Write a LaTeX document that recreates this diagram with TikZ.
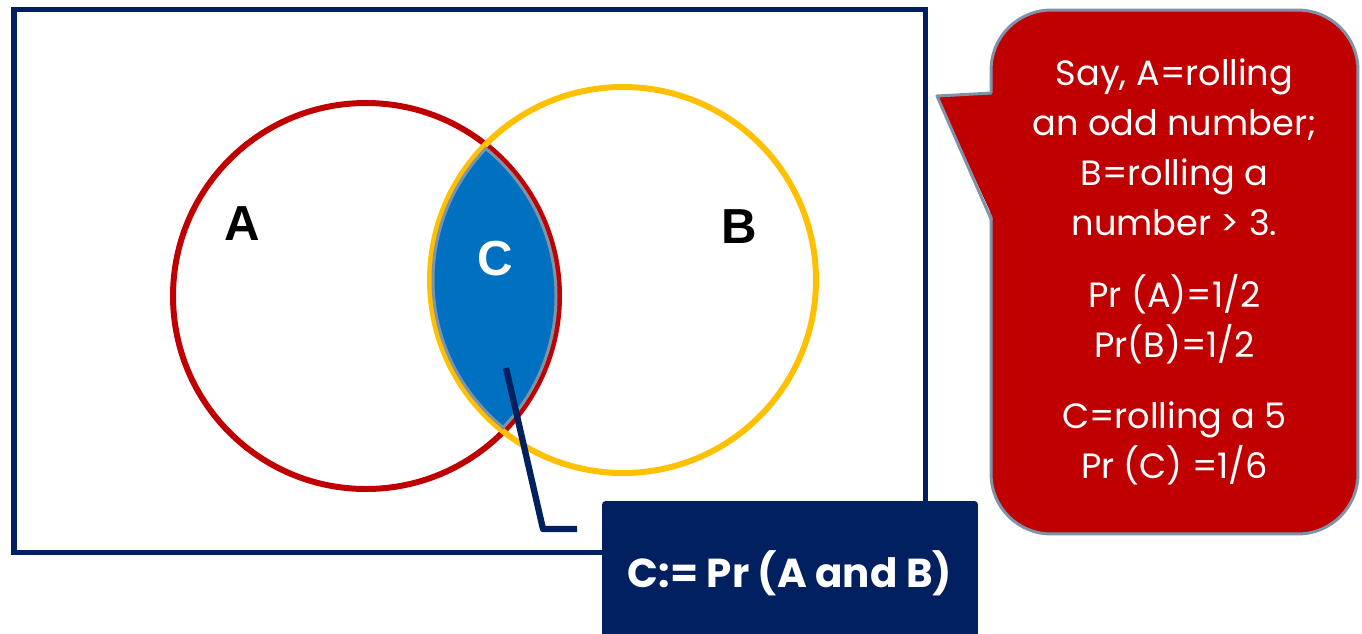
\documentclass[tikz,border=0pt]{standalone}
\usepackage{fontspec}
\setmainfont{Poppins}
\newfontfamily\arialbf{Liberation Sans}[Scale=1.0]
\usepackage{tikz}
\usetikzlibrary{positioning,calc}

\definecolor{navy}{HTML}{002060}
\definecolor{setred}{HTML}{C00000}
\definecolor{setgold}{HTML}{FFC000}
\definecolor{lensblue}{HTML}{0070C0}
\definecolor{slate}{HTML}{7F93A8}

\begin{document}
\begin{tikzpicture}[
  x=0.02cm, y=-0.02cm,
  frame/.style={draw=navy, line width=2.85pt},
  setA/.style={draw=setred, line width=3.4pt},
  setB/.style={draw=setgold, line width=3.4pt},
  setlabel/.style={font=\arialbf\fontsize{28}{30}\selectfont\bfseries, inner sep=0pt},
  link/.style={draw=navy, line width=3.6pt, line join=round},
  defbox/.style={rectangle, fill=navy, rounded corners=2pt, minimum width=7.52cm, minimum height=2.88cm, text=white, font=\fontsize{23}{26}\selectfont\bfseries},
  note/.style={rectangle, fill=setred, draw=slate, line width=1.7pt, rounded corners=1.2cm, minimum width=7.34cm, minimum height=10.48cm, text=white, align=center, font=\fontsize{20}{28.5}\selectfont},
]
  \useasboundingbox (0,0) rectangle (1362,633);

  % sample space and the two events
  \draw[frame] (14,9) rectangle (925,552);
  \coordinate (ca) at (366,296);
  \coordinate (cb) at (623,280);
  \draw[setA] (ca) circle (193);
  \draw[setB] (cb) circle (193);

  % intersection
  \begin{scope}
    \clip (ca) circle (190);
    \fill[lensblue] (cb) circle (190);
  \end{scope}
  \begin{scope}
    \clip (ca) circle (191.5);
    \draw[slate, line width=1.7pt] (cb) circle (190);
  \end{scope}
  \begin{scope}
    \clip (cb) circle (191.5);
    \draw[slate, line width=1.7pt] (ca) circle (190);
  \end{scope}

  \node[setlabel] (labA) at (242,224) {A};
  \node[setlabel] (labB) at (739,227) {B};
  \node[setlabel, text=white] (labC) at (495,259) {C};

  % definition box
  \node[defbox] (def) at (790,573) {C:= Pr (A and B)};
  \coordinate (tipC) at (506,368);
  \coordinate (endC) at (577,529);
  \draw[link] (tipC) -- (543,529) -- (endC);

  % callout
  \node[note] (info) at (1174.5,272) {Say, A=rolling\\an odd number;\\B=rolling a\\number > 3.\\[12pt]
    Pr (A)=1/2\\Pr(B)=1/2\\[12pt]
    C=rolling a 5\\Pr (C) =1/6};
  \fill[setred] (994,93) -- (937,96) -- (994,220) -- cycle;
  \draw[slate, line width=1.7pt, line join=round] (991.5,93) -- (937,96) -- (991.5,220);
\end{tikzpicture}
\end{document}
